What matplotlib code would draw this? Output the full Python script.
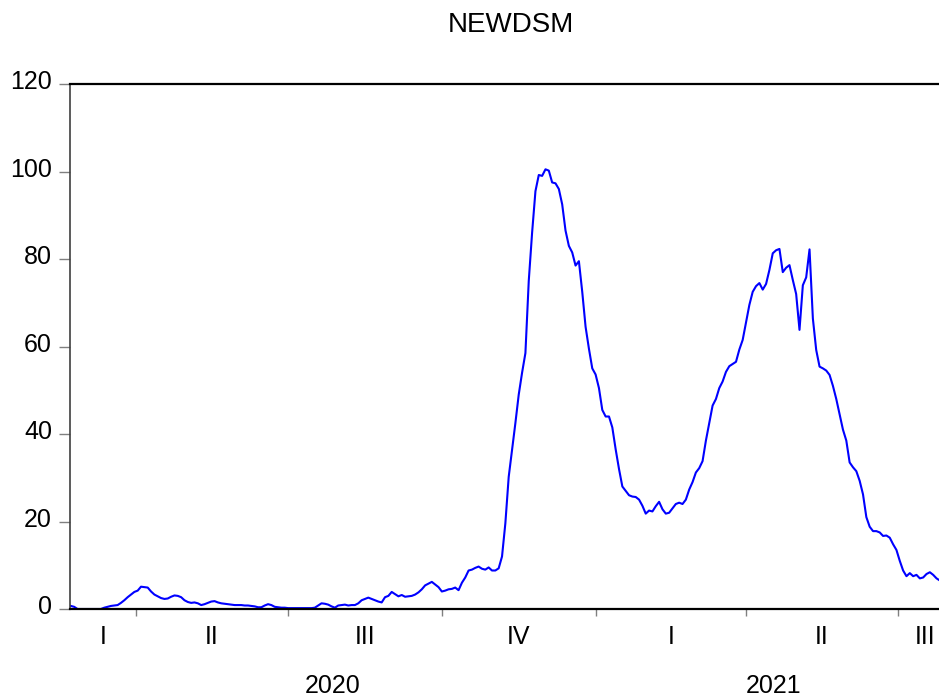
import pandas as pd
import matplotlib
matplotlib.use('Agg')
import matplotlib.pyplot as plt
import matplotlib.dates as mdates
from matplotlib.transforms import blended_transform_factory, ScaledTranslation

plt.rcParams['font.family'] = ['Liberation Sans', 'DejaVu Sans']

# NEWDSM, one value every two days starting 2020-02-22
newdsm = [
    0.7, 0.5, 0.0, 0.0, 0.0, 0.0, 0.0, 0.0, 0.0, 0.0,
    0.3, 0.5, 0.7, 0.8, 0.9, 1.4, 2.0, 2.7, 3.3, 3.9,
    4.2, 5.1, 5.0, 4.9, 4.0, 3.3, 2.9, 2.5, 2.3, 2.4,
    2.8, 3.1, 3.0, 2.7, 2.0, 1.6, 1.4, 1.5, 1.3, 0.9,
    1.1, 1.4, 1.7, 1.8, 1.5, 1.3, 1.2, 1.1, 1.0, 0.9,
    0.9, 0.9, 0.8, 0.8, 0.7, 0.6, 0.4, 0.4, 0.8, 1.1,
    0.9, 0.5, 0.4, 0.3, 0.3, 0.2, 0.2, 0.2, 0.2, 0.2,
    0.2, 0.2, 0.2, 0.3, 0.8, 1.3, 1.2, 1.0, 0.6, 0.3,
    0.8, 0.9, 1.0, 0.8, 0.9, 0.9, 1.3, 2.0, 2.3, 2.6,
    2.3, 2.0, 1.7, 1.5, 2.7, 3.0, 3.9, 3.4, 2.9, 3.2,
    2.8, 2.9, 3.0, 3.3, 3.8, 4.5, 5.4, 5.8, 6.2, 5.6,
    5.0, 4.0, 4.2, 4.5, 4.6, 4.9, 4.3, 6.0, 7.2, 8.8,
    9.0, 9.4, 9.7, 9.2, 9.0, 9.5, 8.8, 8.8, 9.3, 12.0,
    19.6, 30.2, 36.3, 42.5, 49.0, 54.0, 58.5, 75.0, 86.0, 95.5,
    99.2, 99.0, 100.5, 100.2, 97.5, 97.3, 96.0, 92.5, 86.5, 83.0,
    81.5, 78.5, 79.5, 72.5, 64.5, 59.5, 55.0, 53.6, 50.5, 45.5,
    44.0, 44.0, 41.5, 36.5, 32.0, 28.0, 27.0, 26.0, 25.7, 25.6,
    25.0, 23.6, 21.8, 22.5, 22.3, 23.5, 24.5, 22.8, 21.8, 22.0,
    23.0, 24.0, 24.3, 24.0, 25.0, 27.3, 29.0, 31.2, 32.2, 33.8,
    38.5, 42.5, 46.5, 48.0, 50.5, 52.0, 54.2, 55.5, 56.0, 56.5,
    59.3, 61.5, 65.5, 69.5, 72.5, 73.8, 74.5, 73.0, 74.3, 77.5,
    81.3, 82.0, 82.3, 77.0, 78.0, 78.6, 75.2, 72.0, 63.8, 74.0,
    75.8, 82.2, 66.4, 59.2, 55.4, 55.0, 54.5, 53.5, 51.0, 48.0,
    44.5, 41.0, 38.5, 33.5, 32.4, 31.5, 29.3, 26.2, 21.0, 18.8,
    17.8, 17.8, 17.5, 16.7, 16.8, 16.3, 14.8, 13.5, 11.0, 8.8,
    7.5, 8.2, 7.5, 7.8, 7.0, 7.2, 8.0, 8.4, 7.8, 7.0,
    6.5,
]
dates = pd.date_range('2020-02-22', periods=len(newdsm), freq='2D')

y_ticks = [0, 20, 40, 60, 80, 100, 120]
quarter_names = ['I', 'II', 'III', 'IV']
years = [2020, 2021]

x_lo = pd.Timestamp('2020-02-21 12:00')
x_hi = pd.Timestamp('2021-08-02 06:00')

fig = plt.figure(figsize=(9.39, 6.97), dpi=100)
ax = fig.add_axes([70 / 939, 88 / 697, 882 / 939, 525 / 697])

ax.plot(dates, newdsm, color='#0000ff', lw=1.5)

ax.set_xlim(x_lo, x_hi)
ax.set_ylim(0, 120)

# frame: open on the right
ax.spines['right'].set_visible(False)
ax.spines['top'].set_linewidth(1.6)
ax.spines['bottom'].set_linewidth(1.6)
ax.spines['left'].set_linewidth(1.2)
ax.spines['left'].set_color('#404040')

# quarter boundaries as x ticks, labels drawn separately
q_starts = pd.date_range('2020-01-01', '2021-10-01', freq='QS')
inside = [q for q in q_starts if x_lo < q < x_hi]
ax.set_xticks(inside)
ax.tick_params(axis='x', direction='out', length=5, width=1,
               color='#808080', labelbottom=False)

ax.set_yticks(y_ticks)
ax.set_yticklabels([str(v) for v in y_ticks])
ax.tick_params(axis='y', direction='out', length=8, width=1,
               color='#808080', pad=5, labelsize=18)
for lab in ax.get_yticklabels():
    lab.set_transform(lab.get_transform() +
                      ScaledTranslation(0, 3 / 72, fig.dpi_scale_trans))

trans = blended_transform_factory(ax.transData, fig.transFigure)

# quarter labels centred on the visible part of each quarter
for q0, q1 in zip(q_starts[:-1], q_starts[1:]):
    a, b = max(q0, x_lo), min(q1, x_hi)
    if b <= a:
        continue
    mid = (mdates.date2num(a) + mdates.date2num(b)) / 2
    ax.text(mid, 1 - 637 / 697, quarter_names[(q0.month - 1) // 3],
            transform=trans, ha='center', va='center', fontsize=18,
            clip_on=False)

# year labels
for yr in years:
    a = max(pd.Timestamp(f'{yr}-01-01'), x_lo)
    b = min(pd.Timestamp(f'{yr + 1}-01-01'), x_hi)
    mid = (mdates.date2num(a) + mdates.date2num(b)) / 2
    ax.text(mid, 1 - 686 / 697, str(yr), transform=trans,
            ha='center', va='center', fontsize=18, clip_on=False)

fig.text(511 / 939, 1 - 25 / 697, 'NEWDSM', ha='center', va='center',
         fontsize=20)

fig.savefig('out.png', dpi=100)
